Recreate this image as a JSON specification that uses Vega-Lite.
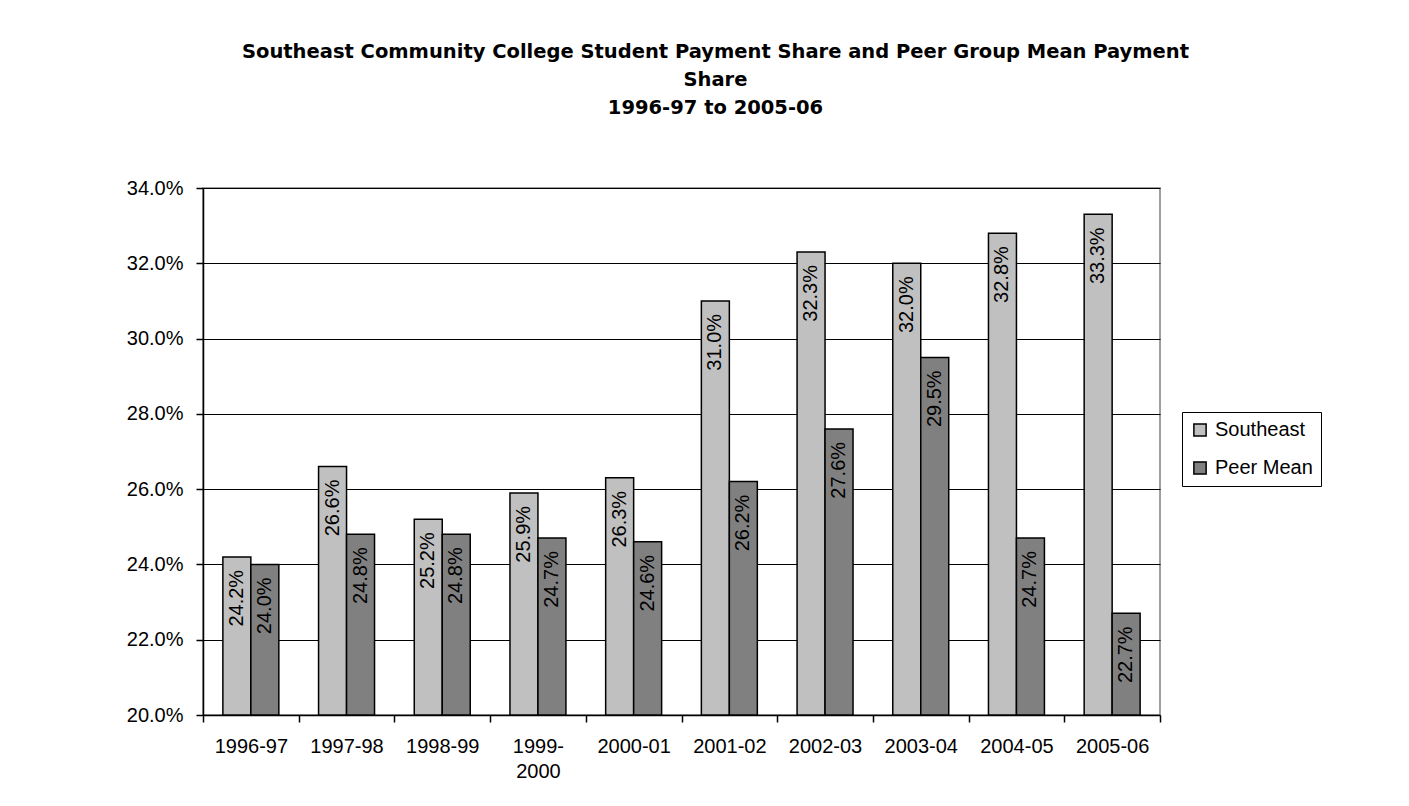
{
  "$schema": "https://vega.github.io/schema/vega-lite/v6.json",
  "width": 957,
  "height": 527,
  "autosize": {"type": "none"},
  "padding": {"left": 203, "top": 188, "right": 249, "bottom": 91},
  "background": "white",
  "title": {
    "text": ["Southeast Community College Student Payment Share and Peer Group Mean Payment", "Share", "1996-97 to 2005-06"],
    "font": "DejaVu Sans",
    "fontSize": 19.5,
    "fontWeight": "bold",
    "lineHeight": 28,
    "anchor": "middle",
    "dx": 34,
    "offset": 60,
    "color": "black"
  },
  "config": {
    "view": {"stroke": "#808080", "strokeWidth": 1.5},
    "font": "Liberation Sans"
  },
  "data": {
    "values": [
      {"year": "1996-97", "series": "Southeast", "value": 0.242},
      {"year": "1996-97", "series": "Peer Mean", "value": 0.240},
      {"year": "1997-98", "series": "Southeast", "value": 0.266},
      {"year": "1997-98", "series": "Peer Mean", "value": 0.248},
      {"year": "1998-99", "series": "Southeast", "value": 0.252},
      {"year": "1998-99", "series": "Peer Mean", "value": 0.248},
      {"year": "1999-2000", "series": "Southeast", "value": 0.259},
      {"year": "1999-2000", "series": "Peer Mean", "value": 0.247},
      {"year": "2000-01", "series": "Southeast", "value": 0.263},
      {"year": "2000-01", "series": "Peer Mean", "value": 0.246},
      {"year": "2001-02", "series": "Southeast", "value": 0.310},
      {"year": "2001-02", "series": "Peer Mean", "value": 0.262},
      {"year": "2002-03", "series": "Southeast", "value": 0.323},
      {"year": "2002-03", "series": "Peer Mean", "value": 0.276},
      {"year": "2003-04", "series": "Southeast", "value": 0.320},
      {"year": "2003-04", "series": "Peer Mean", "value": 0.295},
      {"year": "2004-05", "series": "Southeast", "value": 0.328},
      {"year": "2004-05", "series": "Peer Mean", "value": 0.247},
      {"year": "2005-06", "series": "Southeast", "value": 0.333},
      {"year": "2005-06", "series": "Peer Mean", "value": 0.227}
    ]
  },
  "encoding": {
    "x": {
      "field": "year",
      "type": "nominal",
      "sort": null,
      "scale": {"paddingInner": 0, "paddingOuter": 0},
      "axis": {
        "title": null,
        "labelAngle": 0,
        "labelFont": "Liberation Sans",
        "labelFontSize": 20,
        "labelColor": "black",
        "labelPadding": 14,
        "labelExpr": "datum.value == '1999-2000' ? ['1999-', '2000'] : datum.value",
        "labelLineHeight": 25,
        "tickBand": "extent",
        "tickSize": 7,
        "tickColor": "black",
        "tickWidth": 1.5,
        "domainColor": "black",
        "domainWidth": 1.5,
        "grid": false
      }
    },
    "xOffset": {
      "field": "series",
      "type": "nominal",
      "sort": ["Southeast", "Peer Mean"],
      "scale": {"paddingInner": 0, "paddingOuter": 0.71}
    },
    "y": {
      "field": "value",
      "type": "quantitative",
      "scale": {"domain": [0.2, 0.34], "zero": false, "nice": false},
      "axis": {
        "title": null,
        "values": [0.2, 0.22, 0.24, 0.26, 0.28, 0.3, 0.32, 0.34],
        "format": ".1%",
        "labelFont": "Liberation Sans",
        "labelFontSize": 20,
        "labelColor": "black",
        "labelPadding": 13,
        "tickSize": 7,
        "tickColor": "black",
        "tickWidth": 1.5,
        "domainColor": "black",
        "domainWidth": 1.5,
        "grid": true,
        "gridColor": "black",
        "gridWidth": 1
      }
    }
  },
  "layer": [
    {
      "mark": {"type": "bar", "stroke": "black", "strokeWidth": 1.5},
      "encoding": {
        "y2": {"datum": 0.2},
        "color": {
          "field": "series",
          "type": "nominal",
          "scale": {"domain": ["Southeast", "Peer Mean"], "range": ["#C0C0C0", "#808080"]},
          "legend": {
            "title": null,
            "orient": "none",
            "legendX": 979,
            "legendY": 224,
            "symbolType": "square",
            "symbolSize": 150,
            "symbolStrokeColor": "black",
            "symbolStrokeWidth": 1.5,
            "labelFont": "Liberation Sans",
            "labelFontSize": 20,
            "labelColor": "black",
            "strokeColor": "black",
            "fillColor": "white",
            "padding": 8,
            "rowPadding": 18,
            "labelOffset": 5
          }
        }
      }
    },
    {
      "mark": {
        "type": "text",
        "angle": 270,
        "align": "right",
        "baseline": "middle",
        "dx": -13,
        "font": "Liberation Sans",
        "fontSize": 20,
        "color": "black"
      },
      "encoding": {
        "text": {"field": "value", "type": "quantitative", "format": ".1%"}
      }
    }
  ]
}
